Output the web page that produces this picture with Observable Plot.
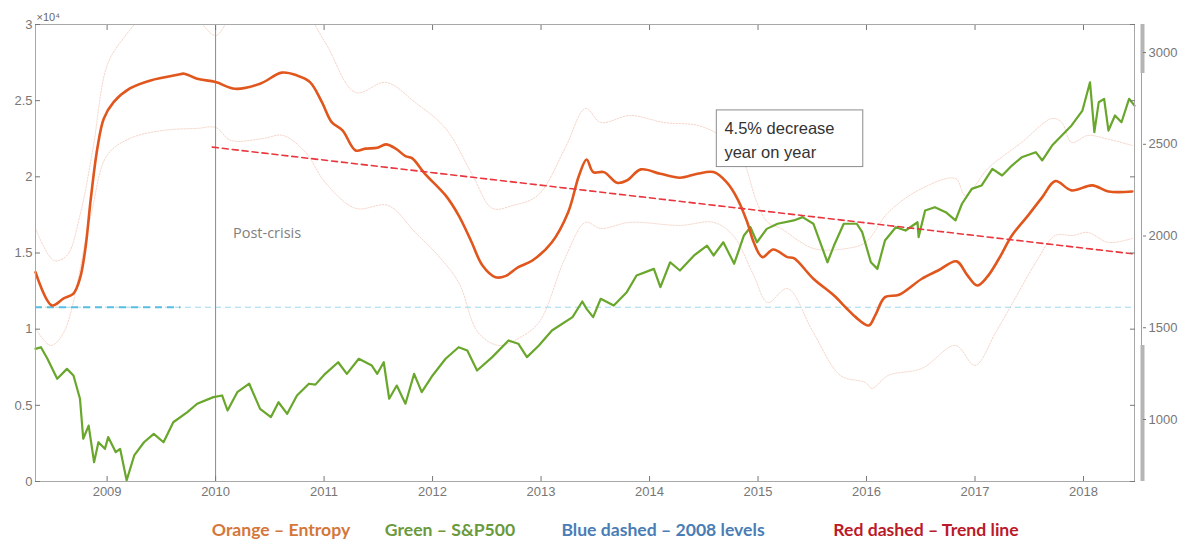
<!DOCTYPE html>
<html><head><meta charset="utf-8">
<script src="https://cdn.jsdelivr.net/npm/d3@7"></script>
<script src="https://cdn.jsdelivr.net/npm/@observablehq/plot@0.6"></script>
<style>
body{margin:0;background:#fff;}
#wrap{position:relative;width:1185px;height:540px;overflow:hidden;}
#legend{position:absolute;top:519px;left:0;width:1185px;height:26px;font-family:Lato,"Open Sans",sans-serif;font-weight:700;font-size:17.6px;}
#legend span{position:absolute;top:0;white-space:nowrap;transform:translateX(-50%);}
</style></head><body>
<div id="wrap"><div id="chart"></div><div id="legend"></div></div>
<script>
// ---- data ----
const xTicks = [2009,2010,2011,2012,2013,2014,2015,2016,2017,2018];
const yTicks = [0,5000,10000,15000,20000,25000,30000];
const spTicks = [1000,1500,2000,2500,3000];
const xDomain = [2008.34, 2018.47];
const spDomain = [662, 3153];            // right axis range matching 0..3e4

const entYear = [2008.34,2008.49,2008.60,2008.69,2008.75,2008.80,2008.85,2008.91,2008.97,2009.06,2009.21,2009.40,2009.65,2009.71,2009.83,2010.00,2010.18,2010.41,2010.61,2010.75,2010.87,2010.98,2011.07,2011.17,2011.29,2011.38,2011.49,2011.57,2011.66,2011.75,2011.81,2011.93,2012.12,2012.24,2012.36,2012.46,2012.58,2012.67,2012.79,2012.92,2013.10,2013.25,2013.35,2013.42,2013.48,2013.58,2013.70,2013.79,2013.92,2014.10,2014.28,2014.44,2014.59,2014.71,2014.81,2014.90,2014.96,2015.04,2015.14,2015.27,2015.33,2015.51,2015.70,2015.82,2015.90,2016.02,2016.08,2016.17,2016.30,2016.51,2016.66,2016.83,2016.93,2017.02,2017.11,2017.22,2017.34,2017.49,2017.62,2017.74,2017.89,2018.08,2018.23,2018.45];
const entValue = [13740,11560,12020,12340,13330,15300,18580,21860,23830,24900,25800,26330,26700,26770,26440,26220,25780,26110,26840,26660,26220,24900,23590,23050,21730,21850,21910,22130,21850,21360,21230,20200,18780,17470,15710,14180,13410,13480,14070,14510,15710,17680,20090,21140,20310,20310,19610,19760,20490,20200,19940,20200,20310,19650,18560,17030,15710,14730,15230,14730,14660,13310,12210,11340,10790,10240,10900,12100,12260,13310,13850,14450,13530,12870,13410,14620,16150,17470,18670,19720,19110,19440,19040,19040];

const upYear = [2008.34,2008.51,2008.63,2008.75,2008.87,2009.00,2009.15,2009.40,2009.70,2009.85,2010.00,2010.14,2010.40,2010.70,2011.01,2011.29,2011.57,2011.84,2012.12,2012.37,2012.55,2012.74,2012.97,2013.22,2013.41,2013.55,2013.82,2014.13,2014.44,2014.65,2014.84,2014.99,2015.09,2015.21,2015.51,2015.82,2015.99,2016.20,2016.51,2016.82,2016.91,2017.12,2017.43,2017.71,2017.80,2017.89,2018.04,2018.20,2018.45];
const upValue = [16610,14510,14840,17470,21860,27310,29090,31000,31800,30300,29280,30500,32000,32000,28820,25540,26200,24880,23180,20090,17930,18120,18780,21860,24490,23570,24030,23570,23380,22720,21410,18320,17010,16610,15300,15300,15690,17660,19240,19890,18780,20550,22260,23830,23570,22260,22720,22520,22060];

const loYear = [2008.34,2008.48,2008.60,2008.85,2009.00,2009.21,2009.52,2009.83,2010.00,2010.14,2010.44,2010.62,2010.83,2011.01,2011.29,2011.59,2011.84,2012.05,2012.24,2012.42,2012.61,2012.79,2012.98,2013.22,2013.41,2013.55,2013.82,2014.28,2014.59,2014.77,2014.96,2015.09,2015.27,2015.51,2015.76,2015.99,2016.05,2016.20,2016.51,2016.82,2017.00,2017.19,2017.37,2017.56,2017.74,2017.90,2018.04,2018.23,2018.45];
const loValue = [10050,8930,9780,17470,21410,22520,23050,23180,23240,22390,22520,22720,21600,19630,17930,18120,16350,14840,13070,9780,8930,9390,10440,14640,17010,16610,17010,16810,17010,16150,13530,11750,12670,9780,6960,6500,6110,6960,7420,8930,7620,9780,12020,14380,16150,16150,16350,15690,15960];

const spYear = [2008.34,2008.39,2008.45,2008.54,2008.63,2008.69,2008.75,2008.78,2008.83,2008.88,2008.92,2008.98,2009.01,2009.08,2009.12,2009.18,2009.25,2009.34,2009.43,2009.52,2009.61,2009.74,2009.83,2009.98,2010.06,2010.11,2010.20,2010.31,2010.41,2010.51,2010.58,2010.66,2010.75,2010.86,2010.92,2011.01,2011.13,2011.21,2011.32,2011.44,2011.49,2011.55,2011.60,2011.67,2011.75,2011.83,2011.90,2012.00,2012.12,2012.24,2012.32,2012.41,2012.55,2012.70,2012.79,2012.87,2012.98,2013.10,2013.29,2013.38,2013.42,2013.48,2013.55,2013.67,2013.79,2013.88,2014.04,2014.10,2014.19,2014.28,2014.41,2014.53,2014.59,2014.68,2014.78,2014.87,2014.93,2014.99,2015.08,2015.18,2015.33,2015.41,2015.51,2015.64,2015.70,2015.79,2015.91,2015.96,2016.04,2016.10,2016.17,2016.27,2016.36,2016.47,2016.48,2016.54,2016.63,2016.73,2016.82,2016.88,2016.97,2017.06,2017.16,2017.25,2017.34,2017.43,2017.56,2017.62,2017.71,2017.80,2017.89,2017.99,2018.06,2018.10,2018.14,2018.19,2018.23,2018.29,2018.35,2018.42,2018.47];
const spValue = [1385,1394,1331,1222,1276,1240,1113,895,967,767,876,840,904,822,840,668,804,876,922,876,985,1040,1086,1122,1131,1049,1149,1195,1058,1013,1094,1031,1131,1195,1190,1249,1312,1249,1331,1294,1249,1312,1113,1185,1086,1249,1149,1240,1331,1394,1376,1267,1340,1431,1413,1340,1403,1485,1558,1643,1603,1558,1658,1621,1694,1785,1821,1721,1857,1812,1894,1948,1894,1966,1849,2003,2048,1966,2039,2067,2085,2103,2067,1857,1948,2067,2067,2021,1857,1821,1976,2048,2030,2075,1994,2139,2157,2130,2085,2176,2257,2275,2366,2330,2384,2429,2457,2412,2493,2548,2603,2684,2838,2566,2729,2748,2575,2657,2620,2748,2711];

const level2008 = 11440;                  // blue dashed 2008 level
const level2008BoldEnd = 2009.68;
const trendYear = [2009.97, 2018.45];
const trendValue = [21950, 14950];
const crisisYear = 2010;
const postCrisisLabel = {x: 2010.16, y: 16280, text: "Post-crisis"};
const noteBox = {x1: 2014.62, x2: 2015.97, y1: 20640, y2: 24360};
const noteText = {x: 2014.69, y: 22520, text: "4.5% decrease\nyear on year"};
const spBars = [[2886, 3153], [662, 1403]];

const legendItems = ["Orange – Entropy", "Green – S&P500", "Blue dashed – 2008 levels", "Red dashed – Trend line"];
const legendColors = ["#d4773a", "#6a9a3c", "#4a7db5", "#bb1a2a"];
const legendCenters = [281, 450, 663, 926];

// ---- build ----
const toLeft = v => (v - spDomain[0]) / (spDomain[1] - spDomain[0]) * 30000;
const entropy = entYear.map((x, i) => ({x, y: entValue[i]}));
const upper = upYear.map((x, i) => ({x, y: upValue[i]}));
const lower = loYear.map((x, i) => ({x, y: loValue[i]}));
const sp = spYear.map((x, i) => ({x, y: toLeft(spValue[i])}));
const trend = trendYear.map((x, i) => ({x, y: trendValue[i]}));
const axisCol = "#777";

const chart = Plot.plot({
  width: 1185, height: 512,
  marginLeft: 35, marginRight: 51, marginTop: 24, marginBottom: 31,
  style: {fontFamily: "'Liberation Sans', Arial, sans-serif", fontSize: "13px", color: "#555", background: "#fff"},
  x: {domain: xDomain, axis: null},
  y: {domain: [0, 30000], axis: null},
  marks: [
    Plot.line(upper, {x: "x", y: "y", stroke: "#eeb7a4", strokeOpacity: 0.6, strokeWidth: 1, strokeDasharray: "1.5,1.5", curve: "catmull-rom", clip: true}),
    Plot.line(lower, {x: "x", y: "y", stroke: "#eeb7a4", strokeOpacity: 0.6, strokeWidth: 1, strokeDasharray: "1.5,1.5", curve: "catmull-rom", clip: true}),
    Plot.ruleY([{y: level2008}], {y: "y", stroke: "#9fd8ee", strokeWidth: 1, strokeDasharray: "6,4"}),
    Plot.ruleY([{y: level2008, x1: xDomain[0], x2: level2008BoldEnd}], {y: "y", x1: "x1", x2: "x2", stroke: "#58bfe2", strokeWidth: 2, strokeDasharray: "7,5"}),
    Plot.ruleX([crisisYear], {stroke: "#8a8a8a", strokeWidth: 1}),
    Plot.line(sp, {x: "x", y: "y", stroke: "#69a62c", strokeWidth: 2.2}),
    Plot.line(entropy, {x: "x", y: "y", stroke: "#e0561c", strokeWidth: 2.6, curve: "catmull-rom"}),
    Plot.line(trend, {x: "x", y: "y", stroke: "#e8363c", strokeWidth: 1.6, strokeDasharray: "6,4"}),
    Plot.text([postCrisisLabel], {x: "x", y: "y", text: "text", textAnchor: "start", fill: "#808080", fontSize: 14.5, fontFamily: "'Open Sans', sans-serif"}),
    Plot.rect([noteBox], {x1: "x1", x2: "x2", y1: "y1", y2: "y2", fill: "white", stroke: "#8c8c8c", strokeWidth: 1}),
    Plot.text([noteText], {x: "x", y: "y", text: "text", textAnchor: "start", lineHeight: 1.45, fill: "#333", fontSize: 16.5}),
    Plot.frame({stroke: "#a8a8a8"}),
    Plot.axisX({anchor: "bottom", ticks: xTicks, tickFormat: d => String(d), tickSize: -5, tickPadding: 10, color: axisCol}),
    Plot.axisX({anchor: "top", ticks: xTicks, tickFormat: () => "", tickSize: -5, color: axisCol}),
    Plot.axisY({anchor: "left", ticks: yTicks, tickFormat: d => String(d / 10000), tickSize: -5, tickPadding: 8, color: axisCol}),
    Plot.axisY({anchor: "right", ticks: yTicks, tickFormat: () => "", tickSize: -5, color: axisCol}),
    Plot.ruleX([xDomain[1]], {dx: 7, stroke: "#a0a0a0", strokeWidth: 1}),
    Plot.ruleX(spBars, {x: () => xDomain[1], y1: d => toLeft(d[0]), y2: d => toLeft(d[1]), dx: 8, stroke: "#b5b5b5", strokeWidth: 4}),
    Plot.axisY({anchor: "right", ticks: spTicks.map(toLeft), tickFormat: (d, i) => String(spTicks[i]), tickSize: 3, tickPadding: 3, dx: 8, color: axisCol}),
    Plot.text(["×10⁴"], {frameAnchor: "top-left", text: d => d, textAnchor: "start", dy: -11, dx: 1, fontSize: 11, fill: "#666"})
  ]
});
document.getElementById("chart").appendChild(chart);

const legend = document.getElementById("legend");
legendItems.forEach((t, i) => {
  const s = document.createElement("span");
  s.textContent = t;
  s.style.color = legendColors[i];
  s.style.left = legendCenters[i] + "px";
  legend.appendChild(s);
});
</script>
</body></html>
